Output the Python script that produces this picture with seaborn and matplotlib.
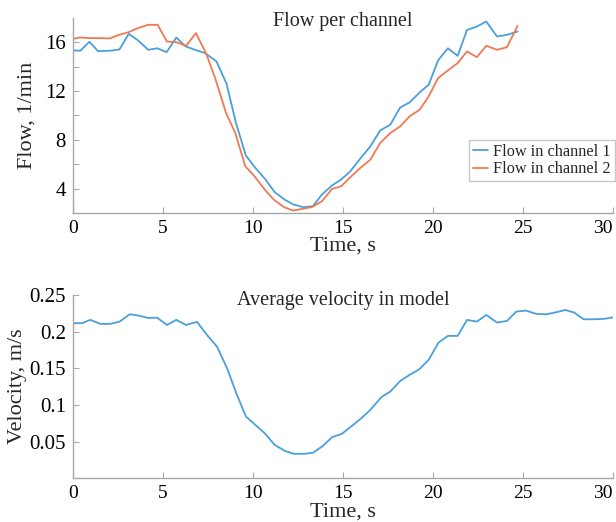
import seaborn as sns
import matplotlib.pyplot as plt
import pandas as pd

# flow per channel
t_ch1 = [0, 0.41, 0.91, 1.39, 2.08, 2.58, 3.1, 3.62, 4.18, 4.68, 5.2, 5.74, 6.26, 6.78,
         7.34, 7.97, 8.53, 9.05, 9.6, 10.13, 10.69, 11.19, 11.75, 12.25, 12.8, 13.33,
         13.83, 14.39, 14.9, 15.41, 15.96, 16.52, 17.07, 17.63, 18.18, 18.7, 19.26,
         19.76, 20.28, 20.83, 21.37, 21.89, 22.44, 22.96, 23.56, 24.11, 24.7]
flow_ch1 = [15.32, 15.3, 16.03, 15.26, 15.3, 15.4, 16.68, 16.14, 15.37, 15.5, 15.18, 16.38,
            15.65, 15.37, 15.1, 14.42, 12.6, 9.4, 6.72, 5.7, 4.75, 3.73, 3.1, 2.69, 2.47,
            2.56, 3.51, 4.25, 4.74, 5.42, 6.46, 7.46, 8.77, 9.24, 10.65, 11.06, 11.88,
            12.51, 14.5, 15.5, 14.88, 17.0, 17.28, 17.69, 16.46, 16.6, 16.87]
t_ch2 = [0, 0.4, 0.96, 1.52, 2.02, 2.57, 3.09, 3.61, 4.17, 4.7, 5.22, 5.74, 6.28, 6.83,
         7.39, 7.91, 8.5, 9.02, 9.57, 10.09, 10.65, 11.15, 11.7, 12.2, 12.76, 13.3,
         13.83, 14.39, 14.9, 15.41, 15.96, 16.52, 17.07, 17.63, 18.18, 18.7, 19.26,
         19.76, 20.28, 20.83, 21.37, 21.89, 22.44, 22.96, 23.56, 24.11, 24.7]
flow_ch2 = [16.27, 16.38, 16.33, 16.33, 16.3, 16.6, 16.82, 17.15, 17.42, 17.42, 16.05, 16.0,
            15.7, 16.74, 15.1, 13.0, 10.2, 8.55, 5.83, 5.0, 3.92, 3.1, 2.5, 2.2, 2.34,
            2.5, 2.96, 3.97, 4.19, 4.93, 5.69, 6.37, 7.74, 8.55, 9.1, 9.92, 10.46, 11.55,
            13.05, 13.68, 14.28, 15.24, 14.77, 15.7, 15.37, 15.59, 17.34]

# average velocity in the model
t_vel = [0, 0.5, 0.96, 1.52, 2.07, 2.59, 3.15, 3.65, 4.17, 4.67, 5.22, 5.74, 6.28, 6.89,
         7.44, 8.0, 8.56, 9.07, 9.61, 10.13, 10.65, 11.2, 11.76, 12.26, 12.81, 13.33,
         13.89, 14.39, 14.94, 15.5, 16.02, 16.52, 17.13, 17.63, 18.18, 18.7, 19.24,
         19.76, 20.31, 20.83, 21.37, 21.89, 22.44, 22.96, 23.56, 24.11, 24.63, 25.18,
         25.74, 26.3, 26.85, 27.35, 27.85, 28.37, 28.92, 29.48, 30.04]
velocity = [0.2114, 0.2114, 0.216, 0.2105, 0.2105, 0.2136, 0.2236, 0.2218, 0.2186, 0.219,
            0.209, 0.216, 0.209, 0.2132, 0.1955, 0.1795, 0.15, 0.116, 0.084, 0.0727,
            0.0614, 0.0455, 0.0373, 0.0332, 0.0332, 0.0345, 0.0441, 0.0559, 0.0605,
            0.0714, 0.0818, 0.0932, 0.1105, 0.1182, 0.1327, 0.1409, 0.1486, 0.1614,
            0.185, 0.1941, 0.1941, 0.2159, 0.2136, 0.2227, 0.2123, 0.2145, 0.2273,
            0.2286, 0.2241, 0.2236, 0.2264, 0.2295, 0.2259, 0.2168, 0.2168, 0.2173, 0.2195]

x_ticks = [0, 5, 10, 15, 20, 25, 30]

BLUE = "#4a9fdc"
ORANGE = "#ee7a55"
SPINE = "#a8a8a8"

sns.set_theme(style="ticks")
plt.rcParams["font.family"] = ["Liberation Serif", "DejaVu Serif"]
plt.rcParams["axes.edgecolor"] = SPINE
plt.rcParams["xtick.color"] = SPINE
plt.rcParams["ytick.color"] = SPINE
plt.rcParams["xtick.labelcolor"] = "black"
plt.rcParams["ytick.labelcolor"] = "black"

flow_df = pd.concat([
    pd.DataFrame({"t": t_ch1, "flow": flow_ch1, "series": "Flow in channel 1"}),
    pd.DataFrame({"t": t_ch2, "flow": flow_ch2, "series": "Flow in channel 2"}),
])
vel_df = pd.DataFrame({"t": t_vel, "v": velocity})

fig = plt.figure(figsize=(6.16, 5.22), dpi=100)
ax1 = fig.add_axes([0.1185, 0.592, 0.8766, 0.374])
ax2 = fig.add_axes([0.1185, 0.084, 0.8766, 0.351])

sns.lineplot(data=flow_df, x="t", y="flow", hue="series", sort=False,
             palette=[BLUE, ORANGE], linewidth=1.3, ax=ax1)
sns.lineplot(data=vel_df, x="t", y="v", sort=False, color=BLUE, linewidth=1.3, ax=ax2)

for ax in (ax1, ax2):
    sns.despine(ax=ax)
    ax.set_xlim(0, 30)
    ax.set_xticks(x_ticks)
    ax.tick_params(direction="in", length=4, width=0.8, labelsize=14, pad=5)
    ax.tick_params(axis="y", labelsize=15)
    ax.set_xlabel("Time, s", fontsize=16, labelpad=0)
    for s in ax.spines.values():
        s.set_linewidth(1.0)
    # last label sits at the right edge of the figure
    ax.get_xticklabels()[-1].set_horizontalalignment("right")

ax1.set_ylim(2, 18)
ax1.set_yticks([4, 6, 8, 10, 12, 14, 16])
ax1.set_yticklabels(["4", "", "8", "", "12", "", "16"])
ax1.set_ylabel("Flow, 1/min", fontsize=16, labelpad=6)
ax1.set_title("Flow per channel", fontsize=14.5, y=0.915)
leg = ax1.legend(loc="lower right", bbox_to_anchor=(1.012, 0.14), fontsize=11.7,
                 handlelength=0.9, handletextpad=0.35, borderpad=0.22, labelspacing=0.08,
                 borderaxespad=0.3, frameon=True, fancybox=False, framealpha=1)
leg.get_frame().set_edgecolor("#c8c8c8")
leg.get_frame().set_linewidth(1.0)

ax2.set_ylim(0, 0.25)
ax2.set_yticks([0.05, 0.1, 0.15, 0.2, 0.25])
ax2.set_yticklabels(["0.05", "0.1", "0.15", "0.2", "0.25"])
ax2.set_ylabel("Velocity, m/s", fontsize=16, labelpad=2)
ax2.set_title("Average velocity in model", fontsize=14.5, y=0.9)

fig.savefig("out.png", dpi=100)
plt.close(fig)
